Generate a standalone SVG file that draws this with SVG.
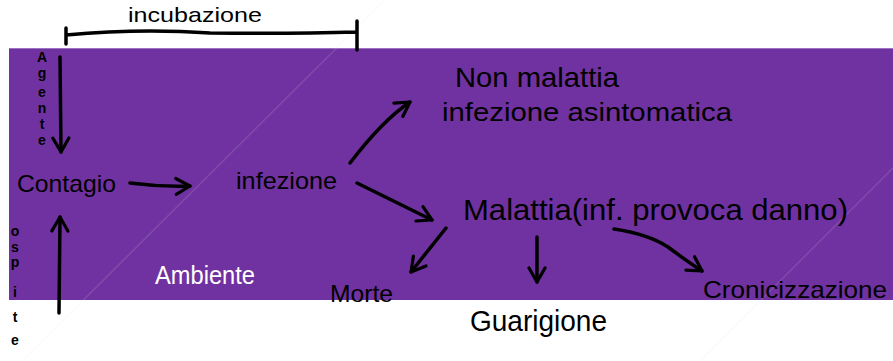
<svg xmlns="http://www.w3.org/2000/svg" width="893" height="361" viewBox="0 0 893 361">
  <style>
    .hw { font-family: "Liberation Sans", "DejaVu Sans", sans-serif; fill: #000; }
    .white { fill: #fff; }
    .v { font-size: 14px; font-weight: bold; text-anchor: middle; }
    .ln { fill: none; stroke: #000; stroke-width: 3.5; stroke-linecap: round; stroke-linejoin: round; }
    .wm { fill: none; stroke: #d6e4f4; stroke-width: 1.5; opacity: 0.15; }
  </style>
  <defs>
    <marker id="head" viewBox="0 0 20 20" refX="17" refY="10" markerWidth="20" markerHeight="20" markerUnits="userSpaceOnUse" orient="auto">
      <path d="M3,2 L17,10 L3,18" fill="none" stroke="#000" stroke-width="3.2" stroke-linecap="round" stroke-linejoin="round"/>
    </marker>
  </defs>
  <rect x="0" y="0" width="893" height="361" fill="#fff"/>
  <rect x="9" y="48" width="884" height="252" fill="#7032A0"/>
  <line x1="9" y1="48.5" x2="893" y2="48.5" stroke="#9c72c2" stroke-width="1"/>
  <g id="watermark">
    <line class="wm" x1="385" y1="0" x2="22" y2="361"/>
    <line class="wm" x1="893" y1="168" x2="700" y2="361"/>
  </g>

  <g id="connectors">
    <path class="ln" d="M66,28 L66,44 M66,35 Q140,28 210,33 Q290,34 357,32 M357,21 L357,50"/>
    <path class="ln" d="M60,57 L61,152" marker-end="url(#head)"/>
    <path class="ln" d="M59,313 L60,217" marker-end="url(#head)"/>
    <path class="ln" d="M130,183 Q160,187 190,186" marker-end="url(#head)"/>
    <path class="ln" d="M350,163 Q383,120 410,102" marker-end="url(#head)"/>
    <path class="ln" d="M357,183 L432,220" marker-end="url(#head)"/>
    <path class="ln" d="M446,228 L411,272" marker-end="url(#head)"/>
    <path class="ln" d="M537,237 L537,282" marker-end="url(#head)"/>
    <path class="ln" d="M614,229 Q648,234 668,247 Q688,262 702,271" marker-end="url(#head)"/>
  </g>

  <g id="incubazione"><text class="hw" x="128" y="22" font-size="21" textLength="134" lengthAdjust="spacingAndGlyphs">incubazione</text></g>
  <g id="agente">
    <text class="hw v" x="42" y="62">A</text>
    <text class="hw v" x="42" y="78">g</text>
    <text class="hw v" x="42" y="97">e</text>
    <text class="hw v" x="42" y="113">n</text>
    <text class="hw v" x="42" y="129">t</text>
    <text class="hw v" x="42" y="145">e</text>
  </g>
  <g id="ospite">
    <text class="hw v" x="15" y="236">o</text>
    <text class="hw v" x="15" y="252">s</text>
    <text class="hw v" x="15" y="267">p</text>
    <text class="hw v" x="15" y="297">i</text>
    <text class="hw v" x="15" y="322" font-size="16">t</text>
    <text class="hw v" x="15" y="345" font-size="16">e</text>
  </g>
  <g id="contagio"><text class="hw" x="17" y="192" font-size="24" textLength="99" lengthAdjust="spacingAndGlyphs">Contagio</text></g>
  <g id="infezione"><text class="hw" x="236" y="189" font-size="24" textLength="101" lengthAdjust="spacingAndGlyphs">infezione</text></g>
  <g id="ambiente"><text class="hw white" x="155" y="284" font-size="26" textLength="100" lengthAdjust="spacingAndGlyphs">Ambiente</text></g>
  <g id="non-malattia">
    <text class="hw" x="455" y="87" font-size="28" textLength="164" lengthAdjust="spacingAndGlyphs">Non malattia</text>
    <text class="hw" x="442" y="121" font-size="26" textLength="290" lengthAdjust="spacingAndGlyphs">infezione asintomatica</text>
  </g>
  <g id="malattia"><text class="hw" x="463" y="220" font-size="30" textLength="385" lengthAdjust="spacingAndGlyphs">Malattia(inf. provoca danno)</text></g>
  <g id="morte"><text class="hw" x="330" y="302" font-size="24" textLength="63" lengthAdjust="spacingAndGlyphs">Morte</text></g>
  <g id="guarigione"><text class="hw" x="470" y="331" font-size="30" textLength="137" lengthAdjust="spacingAndGlyphs">Guarigione</text></g>
  <g id="cronicizzazione"><text class="hw" x="703" y="298" font-size="24" textLength="184" lengthAdjust="spacingAndGlyphs">Cronicizzazione</text></g>
</svg>
